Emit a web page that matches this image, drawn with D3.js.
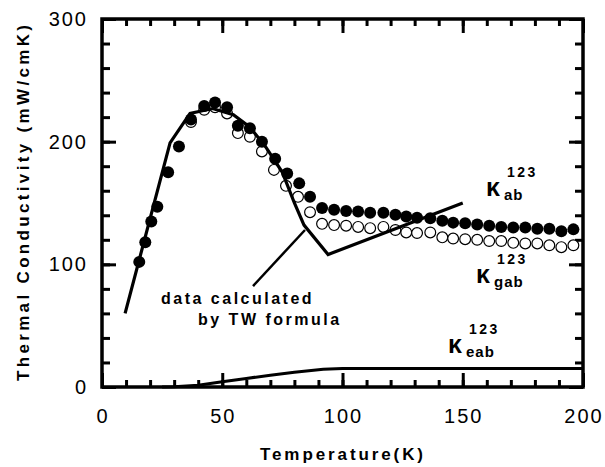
<!DOCTYPE html>
<html>
<head>
<meta charset="utf-8">
<script src="https://cdn.jsdelivr.net/npm/d3@7"></script>
<style>
  body { margin: 0; background: #fff; }
  text { font-family: "Liberation Sans", Arial, sans-serif; fill: #000; }
  .tick-label { font-size: 20px; letter-spacing: 2px; }
  .title { font-size: 17px; font-weight: bold; }
  .note { font-size: 16px; font-weight: bold; letter-spacing: 2.5px; }
</style>
</head>
<body>
<svg id="chart" width="605" height="467"></svg>
<script>
// kappa_ab (filled circles)
var tempAB = [15.5,18,20.5,23,27.5,32,37,42.5,47,52,56.5,61.5,66.5,72,77,82,86.5,91.5,96.5,101.5,
              106.5,111.5,117,122,126.5,131,136.5,141.5,146,151,156,161,166,171,176,181,186,191,196];
var kAB = [102,118,135,147,175,196,218,229,232,228,213,211,200,186,174,166,155,146,144.5,143.5,
           143,142,142,140.5,139,138,137.5,135.5,134,133.5,132.5,131.5,130.5,130,130,129,129,127,128.5];

// kappa_gab (open circles)
var tempGAB = [37,42.5,47,52,56.5,61.5,66.5,71.5,76.5,81.5,86.5,91.5,96.5,101.5,106.5,111.5,117,122,
               126.5,131,136.5,141.5,146,151,156,161,166,171,176,181,186,191,196];
var kGAB = [216,226,228,223,207,204,192,177,164,155,142.5,133,132,131.5,130.5,129.5,130.5,128,
            126,125.5,126,122,121,120.5,120,119,119,117.5,117,117,115.5,114,115.5];

// data calculated by TW formula
var tempTW = [9.6,28.3,36.6,46,54.6,61.4,68,75,80,84,94,150];
var kTW = [60,199,223,227,222,212,196,175,150,132,108,150];

// kappa_eab
var tempEAB = [25,30,40,50,60,70,80,92,100,200];
var kEAB = [0,0.3,1.5,4.3,7,9.6,12,14.4,15,15];

// leader line for the TW note
var leaderT = [62.8,84.4];
var leaderK = [82.3,128];

var xMajor = [0,50,100,150,200];
var xMinor = d3.range(0,201,10);
var yMajor = [0,100,200,300];
var yMinor = d3.range(0,301,20);

var svg = d3.select("#chart"),
    pLeft = 102, pRight = 583, pTop = 19, pBottom = 387,
    x = d3.scaleLinear().domain([0,200]).range([pLeft,pRight]),
    y = d3.scaleLinear().domain([0,300]).range([pBottom,pTop]);

// frame ticks, all pointing inward
function tickAxis(axis, ticks, size, tx, ty) {
  svg.append("g")
      .attr("transform", "translate(" + tx + "," + ty + ")")
      .call(axis.tickValues(ticks).tickSize(size).tickFormat(""))
      .call(function (g) {
        g.select(".domain").remove();
        g.selectAll("line").attr("stroke", "#000").attr("stroke-width", 3);
      });
}
tickAxis(d3.axisBottom(x), xMinor, -7, 0, pBottom);
tickAxis(d3.axisBottom(x), xMajor, -14, 0, pBottom);
tickAxis(d3.axisTop(x), xMinor, -7, 0, pTop);
tickAxis(d3.axisTop(x), xMajor, -14, 0, pTop);
tickAxis(d3.axisLeft(y), yMinor, -8, pLeft, 0);
tickAxis(d3.axisLeft(y), yMajor, -14, pLeft, 0);
tickAxis(d3.axisRight(y), yMinor, -8, pRight, 0);
tickAxis(d3.axisRight(y), yMajor, -14, pRight, 0);

svg.append("rect")
    .attr("x", pLeft).attr("y", pTop)
    .attr("width", pRight - pLeft).attr("height", pBottom - pTop)
    .attr("fill", "none").attr("stroke", "#000").attr("stroke-width", 3.5);

// tick labels
svg.selectAll(".xl").data(xMajor).enter().append("text")
    .attr("class", "tick-label")
    .attr("x", function (d) { return x(d) + 1; })
    .attr("y", 423)
    .attr("text-anchor", "middle")
    .text(function (d) { return d; });
svg.selectAll(".yl").data(yMajor).enter().append("text")
    .attr("class", "tick-label")
    .attr("x", pLeft - 14)
    .attr("y", function (d) { return y(d) + 7; })
    .attr("text-anchor", "end")
    .text(function (d) { return d; });

// axis titles
svg.append("text").attr("class", "title")
    .attr("x", 260).attr("y", 460)
    .attr("textLength", 163).attr("lengthAdjust", "spacing")
    .text("Temperature(K)");
svg.append("text").attr("class", "title")
    .attr("transform", "translate(29,381) rotate(-90)")
    .attr("textLength", 356).attr("lengthAdjust", "spacing")
    .text("Thermal Conductivity (mW/cmK)");

// curves
var line = d3.line()
    .x(function (d) { return x(d[0]); })
    .y(function (d) { return y(d[1]); });

svg.append("path")
    .datum(d3.zip(tempEAB, kEAB))
    .attr("d", line)
    .attr("fill", "none").attr("stroke", "#000").attr("stroke-width", 3);

svg.selectAll(".gab").data(d3.zip(tempGAB, kGAB)).enter().append("circle")
    .attr("cx", function (d) { return x(d[0]); })
    .attr("cy", function (d) { return y(d[1]); })
    .attr("r", 5.4)
    .attr("fill", "#fff").attr("stroke", "#000").attr("stroke-width", 1.2);

svg.selectAll(".ab").data(d3.zip(tempAB, kAB)).enter().append("circle")
    .attr("cx", function (d) { return x(d[0]); })
    .attr("cy", function (d) { return y(d[1]); })
    .attr("r", 6)
    .attr("fill", "#000");

svg.append("path")
    .datum(d3.zip(tempTW, kTW))
    .attr("d", line)
    .attr("fill", "none").attr("stroke", "#000").attr("stroke-width", 3.2)
    .attr("stroke-linejoin", "miter");

svg.append("path")
    .datum(d3.zip(leaderT, leaderK))
    .attr("d", line)
    .attr("fill", "none").attr("stroke", "#000").attr("stroke-width", 2.5);

svg.append("text").attr("class", "note")
    .attr("x", 161).attr("y", 304).text("data calculated");
svg.append("text").attr("class", "note")
    .attr("x", 198).attr("y", 325).text("by TW formula");

// kappa labels
function kappa(xk, yk, sub) {
  var g = svg.append("g").attr("transform", "translate(" + xk + "," + yk + ")");
  g.append("text")
      .attr("font-family", "'Liberation Serif', 'DejaVu Serif', serif")
      .attr("font-weight", "bold").attr("font-size", 25)
      .text("\u03BA");
  g.append("text")
      .attr("x", 18).attr("y", 4)
      .attr("font-weight", "bold").attr("font-size", 15).attr("letter-spacing", 1)
      .text(sub);
  g.append("text")
      .attr("x", 21).attr("y", -19)
      .attr("font-weight", "bold").attr("font-size", 14).attr("letter-spacing", 2.5)
      .text("123");
}
kappa(486, 196, "ab");
kappa(476, 283, "gab");
kappa(448, 353, "eab");
</script>
</body>
</html>
